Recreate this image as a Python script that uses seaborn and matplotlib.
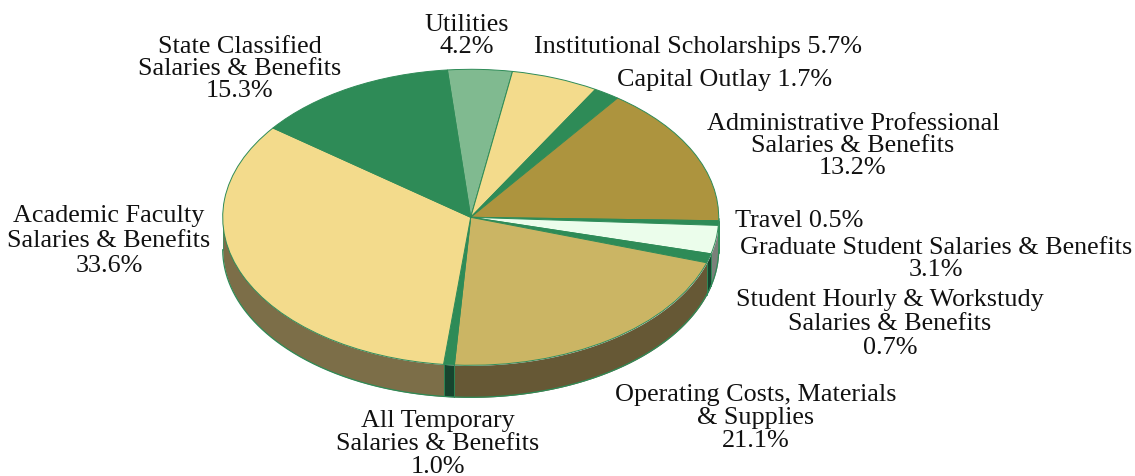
import numpy as np
import matplotlib
matplotlib.use('Agg')
import matplotlib.pyplot as plt
import seaborn as sns

# clockwise from the top, as the slices are drawn in the source
slice_names = ['Utilities', 'Institutional Scholarships', 'Capital Outlay',
               'State Classified', 'Travel', 'Graduate Student', 'All Temporary',
               'Operating Costs', 'Student Hourly', 'Academic Faculty',
               'Administrative Professional']
slice_values = [4.2, 5.7, 1.7, 15.3, 0.5, 3.1, 1.0, 21.1, 0.7, 33.6, 13.2]
top_colors = ['#80ba90', '#f3db8c', '#2e8b57', '#ad943e', '#2e8b57', '#ebfdeb',
              '#2e8b57', '#cbb564', '#2e8b57', '#f3db8c', '#2e8b57']
side_colors = ['#40604a', '#7c6e48', '#17452f', '#665835', '#17452f', '#7a807a',
               '#17452f', '#665835', '#17452f', '#7c6e48', '#17452f']

label_texts = ['Utilities\n4.2%', 'State Classified\nSalaries & Benefits\n15.3%',
               'Institutional Scholarships 5.7%', 'Capital Outlay 1.7%',
               'Administrative Professional\nSalaries & Benefits\n13.2%',
               'Travel 0.5%', 'Graduate Student Salaries & Benefits\n3.1%',
               'Student Hourly & Workstudy\nSalaries & Benefits\n0.7%',
               'Operating Costs, Materials\n& Supplies\n21.1%',
               'All Temporary\nSalaries & Benefits\n1.0%',
               'Academic Faculty\nSalaries & Benefits\n33.6%']
label_x = [467, 240, 698, 725, 853, 799, 936, 890, 756, 438, 109]
label_y = [36, 69, 47, 80, 146, 221, 259, 324, 418, 444, 241]
label_spacing = [0.98, 1.0, 1.0, 1.0, 1.0, 1.0, 1.03, 1.12, 1.08, 1.06, 1.18]

W, H = 1135, 477
CX, CY, RX, RY, DEPTH = 470.7, 218.3, 248, 148, 32

sns.set_theme(style='white')
plt.rcParams['font.family'] = ['Liberation Serif', 'DejaVu Serif']
green = '#2e8b57'

fig = plt.figure(figsize=(W / 100, H / 100), dpi=100)
ax = fig.add_axes([0, 0, 1, 1])

wedges, _ = ax.pie(slice_values, colors=sns.color_palette(top_colors), startangle=95.4,
                   counterclock=False, wedgeprops={'edgecolor': green, 'linewidth': 0.7, 'zorder': 3})

# the pie is a circle in data units, the limits squash it to the ellipse
ax.set_aspect('auto')
ax.set_xlim(-CX / RX, (W - CX) / RX)
ax.set_ylim((CY - H) / RY, CY / RY)
ax.axis('off')

# rim: the front part of each wedge pushed down by the depth
depth = DEPTH / RY
for wedge, color in zip(wedges, side_colors):
    theta = np.radians(np.linspace(wedge.theta1, wedge.theta2, 400))
    theta = theta[np.sin(theta) <= 0]
    if len(theta) < 2:
        continue
    x, y = np.cos(theta), np.sin(theta)
    ax.fill_between(x, y - depth, y, color=color, linewidth=0, zorder=1)
    ax.plot(x, y - depth, color=green, linewidth=0.9, zorder=2)
    ax.plot(x[[0, 0]], [y[0], y[0] - depth], color=green, linewidth=0.5, zorder=2)
    ax.plot(x[[-1, -1]], [y[-1], y[-1] - depth], color=green, linewidth=0.5, zorder=2)

for text, px, py, spacing in zip(label_texts, label_x, label_y, label_spacing):
    fig.text(px / W, 1 - py / H, text, ha='center', va='center', fontsize=18.8,
             color='#111111', linespacing=spacing)

fig.savefig('out.png', dpi=100)
